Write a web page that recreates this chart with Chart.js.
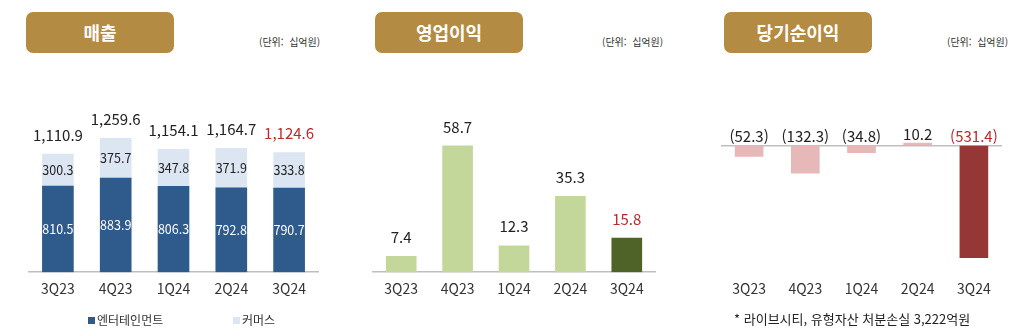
<!DOCTYPE html>
<html lang="ko">
<head>
<meta charset="utf-8">
<script src="https://cdn.jsdelivr.net/npm/chart.js@4/dist/chart.umd.min.js"></script>
<style>
  body { margin: 0; width: 1024px; height: 335px; background: #fff; position: relative; overflow: hidden;
         font-family: "Noto Sans CJK KR", "Noto Sans", sans-serif; color: #222; }
  .box { position: absolute; top: 0; height: 335px; }
  .title { position: absolute; top: 12px; width: 148px; height: 41px; background: #b38b42; border-radius: 7px;
           color: #fff; font-weight: 700; font-size: 18px; line-height: 41px; text-align: center; }
  .unit { position: absolute; top: 34px; font-size: 10px; color: #333; white-space: pre; }
  .legend { position: absolute; top: 311px; font-size: 12px; color: #333; white-space: nowrap; line-height: 18px; }
  .legend i { display: inline-block; width: 7px; height: 7px; margin-right: 2px; vertical-align: 1px; }
  .note { position: absolute; left: 734px; top: 310px; font-size: 13px; color: #222; white-space: nowrap; line-height: 18px; }
</style>
</head>
<body>

<div class="title" style="left:26px">매출</div>
<div class="unit" style="left:259px">(단위:  십억원)</div>
<div class="box" style="left:0; width:340px"><canvas id="salesChart"></canvas></div>
<div class="legend" style="left:88px"><i style="background:#2e5a8c"></i>엔터테인먼트</div>
<div class="legend" style="left:233px"><i style="background:#dce6f2"></i>커머스</div>

<div class="title" style="left:375px">영업이익</div>
<div class="unit" style="left:602px">(단위:  십억원)</div>
<div class="box" style="left:340px; width:340px"><canvas id="opChart"></canvas></div>

<div class="title" style="left:724px">당기순이익</div>
<div class="unit" style="left:947px">(단위:  십억원)</div>
<div class="box" style="left:680px; width:344px"><canvas id="netChart"></canvas></div>
<div class="note">* 라이브시티, 유형자산 처분손실 3,222억원</div>

<script>
const quarters = ['3Q23', '4Q23', '1Q24', '2Q24', '3Q24'];
const entertainment = [810.5, 883.9, 806.3, 792.8, 790.7];
const commerce = [300.3, 375.7, 347.8, 371.9, 333.8];
const salesTotal = [1110.9, 1259.6, 1154.1, 1164.7, 1124.6];
const operatingProfit = [7.4, 58.7, 12.3, 35.3, 15.8];
const netIncome = [-52.3, -132.3, -34.8, 10.2, -531.4];

const NUM_FONT = '"Noto Sans CJK KR", "Noto Sans", sans-serif';
const LAST = quarters.length - 1;

function fmt(v) {
    let s = Math.abs(v).toLocaleString('en-US', {minimumFractionDigits: 1, maximumFractionDigits: 1});
    return v < 0 ? '(' + s + ')' : s;
}

// 막대 위 값 + 누적 막대 안쪽 값
const valueLabels = {
    id: 'valueLabels',
    afterDatasetsDraw(chart, args, opts) {
        const ctx = chart.ctx;
        ctx.save();
        ctx.textAlign = 'center';
        ctx.textBaseline = 'middle';
        if (opts.segmentColors) {
            chart.data.datasets.forEach((ds, i) => {
                chart.getDatasetMeta(i).data.forEach((bar, j) => {
                    ctx.font = '12.5px ' + NUM_FONT;
                    ctx.fillStyle = opts.segmentColors[i];
                    ctx.fillText(fmt(ds.data[j]), bar.x, (bar.y + bar.base) / 2);
                });
            });
        }
        const zero = chart.scales.y.getPixelForValue(0);
        const bars = chart.getDatasetMeta(chart.data.datasets.length - 1).data;
        bars.forEach((bar, j) => {
            ctx.font = '15px ' + NUM_FONT;
            ctx.fillStyle = j === LAST ? '#c0282d' : '#222';
            ctx.fillText(fmt(opts.values[j]), bar.x, Math.min(bar.y, zero) - opts.offset);
        });
        ctx.restore();
    }
};

function xAxis(showBorder) {
    return {
        grid: { display: false, drawTicks: false },
        border: { display: showBorder, color: '#bfbfbf', width: 1.5 },
        ticks: { color: '#333', padding: 8, font: { size: 14, family: NUM_FONT } }
    };
}

function baseOptions(pad) {
    return {
        responsive: true,
        maintainAspectRatio: false,
        animation: false,
        layout: { padding: pad },
        plugins: { legend: { display: false }, tooltip: { enabled: false } }
    };
}

// 매출
let o1 = baseOptions({ left: 29, right: 22, top: 102, bottom: 30 });
o1.scales = {
    x: Object.assign(xAxis(true), { stacked: true }),
    y: { display: false, stacked: true, min: 0, max: 1600 }
};
o1.plugins.valueLabels = { values: salesTotal, offset: 19, segmentColors: ['#ffffff', '#222222'] };
new Chart(document.getElementById('salesChart'), {
    type: 'bar',
    data: {
        labels: quarters,
        datasets: [
            { label: '엔터테인먼트', data: entertainment, backgroundColor: '#2e5a8c', barThickness: 31 },
            { label: '커머스', data: commerce, backgroundColor: '#dce6f2', barThickness: 31 }
        ]
    },
    options: o1,
    plugins: [valueLabels]
});

// 영업이익
let o2 = baseOptions({ left: 33, right: 25, top: 100, bottom: 30 });
o2.scales = { x: xAxis(true), y: { display: false, min: 0, max: 80 } };
o2.plugins.valueLabels = { values: operatingProfit, offset: 19 };
new Chart(document.getElementById('opChart'), {
    type: 'bar',
    data: {
        labels: quarters,
        datasets: [{
            label: '영업이익',
            data: operatingProfit,
            backgroundColor: quarters.map((q, i) => i === LAST ? '#4f6228' : '#c4d79b'),
            barThickness: 30
        }]
    },
    options: o2,
    plugins: [valueLabels]
});

// 당기순이익
let o3 = baseOptions({ left: 41, right: 22, top: 103, bottom: 30 });
o3.scales = {
    x: xAxis(false),
    y: {
        min: -600, max: 200,
        ticks: { display: false, stepSize: 100 },
        border: { display: false },
        grid: { drawTicks: false, lineWidth: 1.5, color: c => c.tick && c.tick.value === 0 ? '#bfbfbf' : 'rgba(0,0,0,0)' }
    }
};
o3.plugins.valueLabels = { values: netIncome, offset: 9 };
new Chart(document.getElementById('netChart'), {
    type: 'bar',
    data: {
        labels: quarters,
        datasets: [{
            label: '당기순이익',
            data: netIncome,
            backgroundColor: quarters.map((q, i) => i === LAST ? '#953735' : '#e6b9b8'),
            barThickness: 28
        }]
    },
    options: o3,
    plugins: [valueLabels]
});
</script>
</body>
</html>
